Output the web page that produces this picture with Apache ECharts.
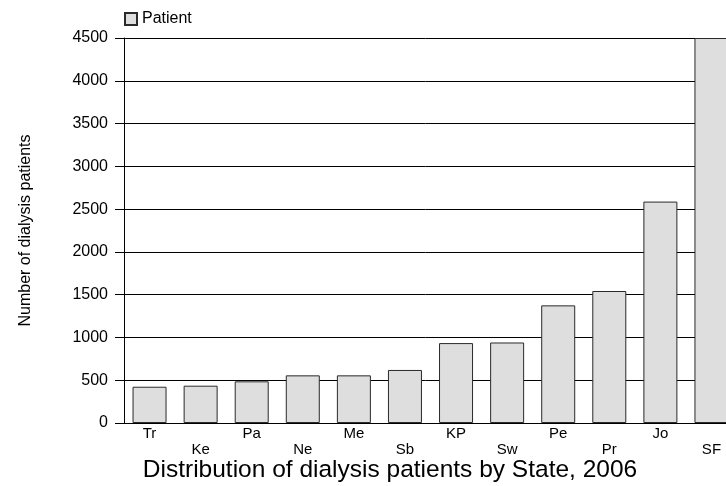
<!DOCTYPE html>
<html>
<head>
<meta charset="utf-8">
<script src="https://cdn.jsdelivr.net/npm/echarts@6/dist/echarts.min.js"></script>
<style>html,body{margin:0;padding:0;background:#fff;}#c{width:726px;height:486px;}</style>
</head>
<body>
<div id="c"></div>
<script>
const categories = ['Tr','Ke','Pa','Ne','Me','Sb','KP','Sw','Pe','Pr','Jo','SF'];
const patients = [424, 436, 487, 557, 557, 620, 934, 941, 1375, 1543, 2588, 4500];
const yTicks = [0, 500, 1000, 1500, 2000, 2500, 3000, 3500, 4000, 4500];

const chart = echarts.init(document.getElementById('c'));
const font = 'Liberation Sans, Arial, sans-serif';
chart.setOption({
  animation: false,
  textStyle: { fontFamily: font },
  title: {
    text: 'Distribution of dialysis patients by State, 2006',
    left: 385, top: 453, textAlign: 'center',
    textStyle: { fontSize: 24.5, fontWeight: 'normal', color: '#000', fontFamily: font }
  },
  legend: {
    data: [{ name: 'Patient', icon: 'rect' }], left: 119, top: 6, itemWidth: 12, itemHeight: 12, itemGap: 5,
    textStyle: { fontSize: 16, color: '#000', fontFamily: font }
  },
  grid: { left: 124, width: 613, top: 38, bottom: 63, outerBoundsMode: 'none', containLabel: false },
  xAxis: {
    type: 'category', data: categories,
    axisLine: { lineStyle: { color: '#000', width: 1 } },
    axisTick: { show: false },
    axisLabel: {
      interval: 0, color: '#000', fontSize: 15, fontFamily: font, margin: 3, lineHeight: 16,
      formatter: (v, i) => (i % 2 === 1 ? '\n' + v : v)
    }
  },
  yAxis: {
    type: 'value', min: yTicks[0], max: yTicks[yTicks.length - 1], interval: 500,
    name: 'Number of dialysis patients', nameLocation: 'middle', nameGap: 90,
    nameTextStyle: { fontSize: 16, color: '#000', fontFamily: font },
    axisLine: { show: true, lineStyle: { color: '#000', width: 1 } },
    axisTick: { show: true, length: 9, lineStyle: { color: '#000' } },
    axisLabel: { color: '#000', fontSize: 16, fontFamily: font, margin: 16, formatter: v => String(v) },
    splitLine: { show: true, lineStyle: { color: '#000', width: 1 } }
  },
  series: [{
    name: 'Patient', type: 'bar', data: patients, barWidth: 34,
    itemStyle: { color: '#dedede', borderColor: '#2a2a2a', borderWidth: 1 }
  }]
});
</script>
</body>
</html>
